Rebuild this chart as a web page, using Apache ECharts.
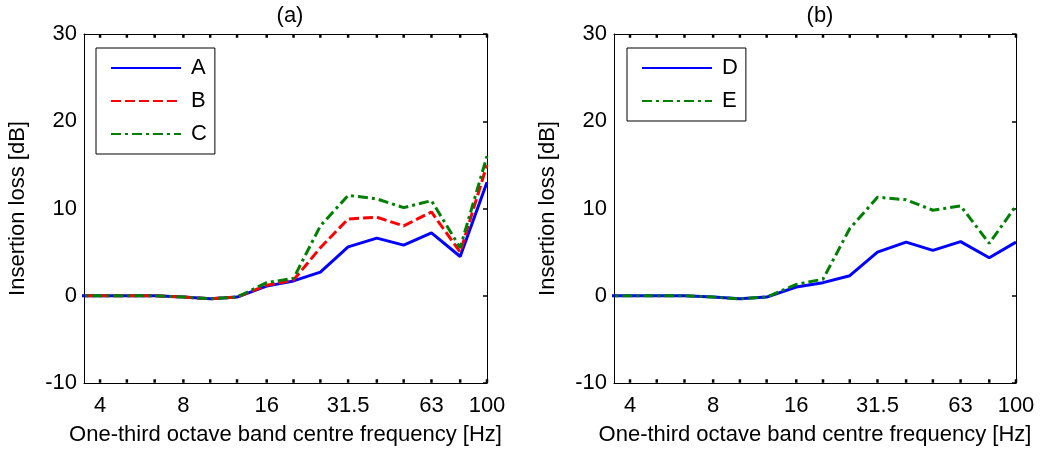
<!DOCTYPE html>
<html>
<head>
<meta charset="utf-8">
<script src="https://cdn.jsdelivr.net/npm/echarts@6/dist/echarts.min.js"></script>
<style>
html,body{margin:0;padding:0;background:#fff;}
#chart{width:1041px;height:456px;}
</style>
</head>
<body>
<div id="chart"></div>
<script>
// One-third octave band centre frequencies [Hz]
const freqs = [3.15, 4, 5, 6.3, 8, 10, 12.5, 16, 20, 25, 31.5, 40, 50, 63, 80, 100];
const tickLabels = [4, 8, 16, 31.5, 63, 100];
const bandTicks = [4, 5, 6.3, 8, 10, 12.5, 16, 20, 25, 31.5, 40, 50, 63, 80, 100];

// Panel (a)
const seriesA = [0, 0, 0, 0, -0.15, -0.35, -0.15, 1.1, 1.7, 2.7, 5.6, 6.6, 5.8, 7.2, 4.5, 13.0];
const seriesB = [0, 0, 0, 0, -0.15, -0.35, -0.15, 1.2, 1.8, 5.5, 8.8, 9.0, 8.0, 9.6, 5.0, 15.0];
const seriesC = [0, 0, 0, 0, -0.15, -0.35, -0.15, 1.5, 2.0, 8.0, 11.5, 11.1, 10.1, 10.9, 5.5, 16.0];
// Panel (b)
const seriesD = [0, 0, 0, 0, -0.15, -0.35, -0.15, 1.0, 1.5, 2.3, 5.0, 6.15, 5.2, 6.2, 4.35, 6.15];
const seriesE = [0, 0, 0, 0, -0.15, -0.35, -0.15, 1.3, 1.9, 7.7, 11.3, 11.0, 9.8, 10.3, 6.0, 10.3];

const FONT = "'Liberation Sans', Arial, sans-serif";
const FS = 22;
const X_MIN = 3.5, X_MAX = 100, Y_MIN = -10, Y_MAX = 30;
const pairs = (ys) => freqs.map((f, i) => [f, ys[i]]);

const grids = [
  {left: 84, right: 554, top: 34, bottom: 73},
  {left: 614, right: 25, top: 34, bottom: 73}
];

function xAxes(gi) {
  const base = {
    type: 'log', logBase: 2, min: X_MIN, max: X_MAX, gridIndex: gi,
    splitLine: {show: false}, minorTick: {show: false}, minorSplitLine: {show: false},
    axisLine: {show: true, onZero: false, lineStyle: {color: '#000', width: 1}},
    axisTick: {show: false}
  };
  return [
    Object.assign({}, base, {
      position: 'bottom',
      name: 'One-third octave band centre frequency [Hz]',
      nameLocation: 'middle', nameGap: 41,
      nameTextStyle: {fontFamily: FONT, fontSize: FS, color: '#000'},
      axisLabel: {show: true, customValues: tickLabels, margin: 12, fontFamily: FONT, fontSize: FS, color: '#000',
        showMinLabel: true, showMaxLabel: true, hideOverlap: false, formatter: (v) => String(v)}
    }),
    Object.assign({}, base, {position: 'top', axisLabel: {show: false}})
  ];
}

function yAxes(gi) {
  const base = {
    type: 'value', min: Y_MIN, max: Y_MAX, interval: 10, gridIndex: gi,
    splitLine: {show: false},
    axisLine: {show: true, onZero: false, lineStyle: {color: '#000', width: 1}}
  };
  return [
    Object.assign({}, base, {
      position: 'left',
      axisTick: {show: false},
      name: 'Insertion loss [dB]', nameLocation: 'middle', nameGap: 55,
      nameTextStyle: {fontFamily: FONT, fontSize: FS, color: '#000'},
      axisLabel: {show: true, margin: 7, fontFamily: FONT, fontSize: FS, color: '#000'}
    }),
    Object.assign({}, base, {
      position: 'right',
      axisTick: {show: true, inside: true, length: 4, lineStyle: {color: '#000', width: 1.5}},
      axisLabel: {show: false}
    })
  ];
}

function lineSeries(name, data, color, type, xi, yi) {
  return {
    name: name, type: 'line', data: pairs(data), xAxisIndex: xi, yAxisIndex: yi,
    symbol: 'none', clip: true, smooth: false, animation: false,
    lineStyle: {color: color, width: 3, type: type},
    itemStyle: {color: color}
  };
}

// band tick marks along the bottom and top frame edges
function tickSeries(yVal, offsetY, xi, yi) {
  return {
    type: 'scatter', name: 'ticks' + xi + '_' + yVal, data: bandTicks.map((f) => [f, yVal]),
    xAxisIndex: xi, yAxisIndex: yi, silent: true, clip: false, animation: false,
    symbol: 'rect', symbolSize: [2.5, 3.5], symbolOffset: [0, offsetY],
    itemStyle: {color: '#000', opacity: 1}, z: 5
  };
}

const dashB = [10, 4];
const dashDot = [10, 4, 3, 4];

const legendBase = {
  orient: 'vertical', backgroundColor: '#fff', borderColor: '#000', borderWidth: 1,
  itemWidth: 70, itemHeight: 22, itemGap: 11,
  itemStyle: {opacity: 0},
  textStyle: {fontFamily: FONT, fontSize: FS, color: '#000', padding: [0, 0, 0, 5]},
  selectedMode: false, z: 10
};

const titleStyle = {fontFamily: FONT, fontSize: FS, fontWeight: 'normal', color: '#000'};

const option = {
  animation: false,
  backgroundColor: '#fff',
  title: [
    {text: '(a)', left: 285, top: 0, textAlign: 'center', textStyle: titleStyle},
    {text: '(b)', left: 815, top: 0, textAlign: 'center', textStyle: titleStyle}
  ],
  grid: grids,
  xAxis: [].concat(xAxes(0), xAxes(1)),
  yAxis: [].concat(yAxes(0), yAxes(1)),
  legend: [
    Object.assign({}, legendBase, {data: ['A', 'B', 'C'], left: 96, top: 48, padding: [9, 8, 9, 14]}),
    Object.assign({}, legendBase, {data: ['D', 'E'], left: 627, top: 48, padding: [9, 8, 9, 14]})
  ],
  series: [
    lineSeries('A', seriesA, '#0000ff', 'solid', 0, 0),
    lineSeries('B', seriesB, '#ff0000', dashB, 0, 0),
    lineSeries('C', seriesC, '#008000', dashDot, 0, 0),
    lineSeries('D', seriesD, '#0000ff', 'solid', 2, 2),
    lineSeries('E', seriesE, '#008000', dashDot, 2, 2),
    tickSeries(Y_MIN, -2, 0, 0),
    tickSeries(Y_MAX, 2, 0, 0),
    tickSeries(Y_MIN, -2, 2, 2),
    tickSeries(Y_MAX, 2, 2, 2)
  ]
};

const chart = echarts.init(document.getElementById('chart'), null, {renderer: 'canvas'});
chart.setOption(option);
</script>
</body>
</html>
